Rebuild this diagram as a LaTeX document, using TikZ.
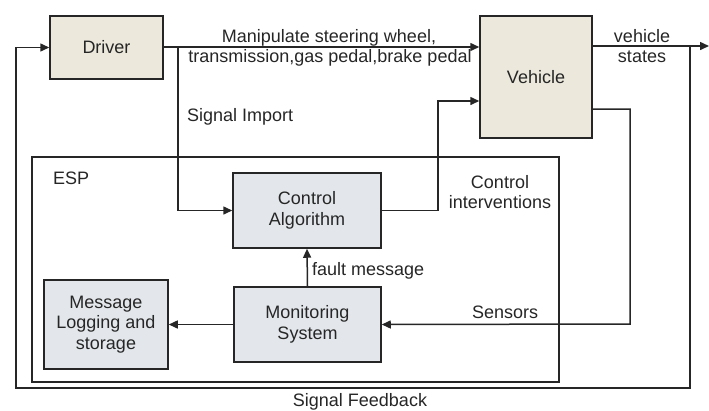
\documentclass[tikz,border=0pt]{standalone}
\usepackage{fontspec}
\setmainfont{Liberation Sans}
\usetikzlibrary{arrows.meta}
\definecolor{beige}{HTML}{ECE9DC}
\definecolor{bluegray}{HTML}{E3E7EB}
\begin{document}
\begin{tikzpicture}[x=1pt,y=-1pt,
  every node/.style={font=\fontsize{18}{20.5}\selectfont, text=black!85},
  boxa/.style={draw=black!85, line width=1.5pt, fill=beige, inner sep=0},
  boxb/.style={draw=black!85, line width=1.5pt, fill=bluegray, inner sep=0, align=center},
  conn/.style={draw=black!85, line width=1.5pt},
  arr/.style={conn, -{Triangle[length=9pt,width=8pt]}},
  lbl/.style={align=center, inner sep=0}]
\useasboundingbox (0,0) rectangle (709,410);
% ESP frame
\draw[conn] (32,157) rectangle (559,382);
\node[lbl, anchor=west] (esp) at (53,178) {ESP};
% boxes
\node[boxa, minimum width=113pt, minimum height=63pt] (driver) at (106.5,47.5) {Driver};
\node[boxa, minimum width=112pt, minimum height=122pt] (vehicle) at (536,77) {Vehicle};
\node[boxb, minimum width=148pt, minimum height=75pt] (ctrl) at (307,210.5) {Control\\Algorithm};
\node[boxb, minimum width=147pt, minimum height=75pt] (mon) at (307.5,324.5) {Monitoring\\System};
\node[boxb, minimum width=124pt, minimum height=89pt] (msg) at (106,324.5) {Message\\Logging and\\storage};
% coordinates
\coordinate (split) at (178,47);
\coordinate (vsplit) at (690,46);
\coordinate (vend) at (709,46);
\coordinate (fbl) at (16,388);
% driver -> vehicle
\draw[arr] (driver.east |- split) -- (vehicle.west |- split);
% signal import
\draw[arr] (split) |- (ctrl.west);
% control interventions
\draw[arr] (ctrl.east) -| (438,101) -- (vehicle.west |- 0,101);
% vehicle states
\draw[arr] (vehicle.east |- vsplit) -- (vend);
% feedback
\draw[arr] (vsplit) |- (fbl) |- (driver.west);
% sensors
\draw[arr] (vehicle.east |- 0,109) -| (630,324) -- (mon.east);
% fault message
\draw[arr] (mon.north) -- (ctrl.south);
% monitoring -> message
\draw[arr] (mon.west) -- (msg.east);
% labels
\node[lbl] (l1) at (329,38) {Manipulate steering wheel,};
\node[lbl] (l2) at (330,58) {transmission,gas pedal,brake pedal};
\node[lbl, anchor=west] (l3) at (187,117) {Signal Import};
\node[lbl] (l4) at (500,192) {Control\\interventions};
\node[lbl, anchor=west] (l5) at (312,271) {fault message};
\node[lbl, anchor=west] (l6) at (472,312) {Sensors};
\node[lbl] (l7) at (642,46) {vehicle\\states};
\node[lbl] (l8) at (360,402) {Signal Feedback};
\end{tikzpicture}
\end{document}
